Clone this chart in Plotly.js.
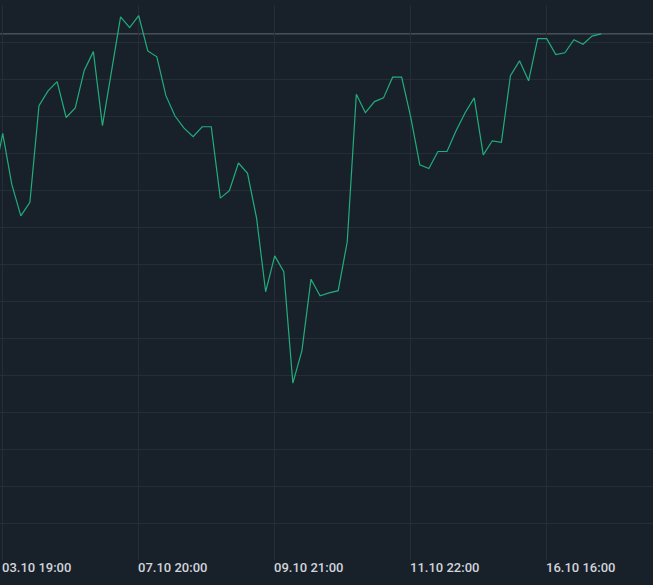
<!DOCTYPE html>
<html>
<head>
<meta charset="utf-8">
<script src="https://cdn.plot.ly/plotly-3.0.1.min.js"></script>
<style>
html,body{margin:0;padding:0;background:#18212a;}
#chart{width:653px;height:585px;}
</style>
</head>
<body>
<div id="chart"></div>
<script>
// Sequential bar index (trading-time axis)
const barIndex = [];
for (let i = 0; i <= 67; i++) barIndex.push(i);

const prices = [
  102.7, 115.3, 101.5, 93.0, 96.7, 122.8, 126.8, 129.3, 119.6, 122.2,
  132.4, 137.4, 117.4, 131.9, 146.8, 143.9, 147.1, 137.6, 136.0, 125.5,
  120.0, 116.7, 114.4, 117.1, 117.1, 97.8, 99.8, 107.3, 104.5, 92.4,
  72.5, 82.2, 77.9, 47.8, 56.6, 75.9, 71.4, 72.2, 72.8, 86.0,
  125.9, 120.9, 123.9, 124.9, 130.5, 130.5, 119.7, 106.8, 105.8, 110.4,
  110.4, 116.0, 120.9, 124.9, 109.5, 113.3, 112.9, 130.9, 134.9, 129.5,
  140.9, 140.9, 136.6, 137.1, 140.6, 139.4, 141.6, 142.2
];

const tickIndex = [1, 16, 31, 46, 61];
const tickLabels = ["03.10 19:00", "07.10 20:00", "09.10 21:00", "11.10 22:00", "16.10 16:00"];

const lastPrice = prices[prices.length - 1];

const trace = {
  x: barIndex,
  y: prices,
  type: 'scatter',
  mode: 'lines',
  line: {color: '#22ad7b', width: 1.2},
  hoverinfo: 'skip'
};

const layout = {
  width: 653,
  height: 585,
  margin: {l: 0, r: 0, t: 5, b: 25},
  paper_bgcolor: '#18212a',
  plot_bgcolor: '#18212a',
  showlegend: false,
  font: {family: 'Roboto, sans-serif', color: '#d1d4da'},
  xaxis: {
    range: [0.702, 72.72],
    tickmode: 'array',
    tickvals: tickIndex,
    ticktext: tickLabels,
    showgrid: true,
    gridcolor: '#232e37',
    gridwidth: 1,
    zeroline: false,
    showline: false,
    ticks: '',
    ticklabelshift: 34,
    ticklabelstandoff: -2,
    tickfont: {family: 'Roboto, sans-serif', size: 13, color: '#d1d4da', weight: 500},
    fixedrange: true
  },
  yaxis: {
    range: [0, 150],
    dtick: 10,
    tick0: 0,
    showgrid: true,
    gridcolor: '#232e37',
    gridwidth: 1,
    zeroline: false,
    showline: false,
    showticklabels: false,
    ticks: '',
    fixedrange: true
  },
  shapes: [{
    type: 'line',
    xref: 'paper', x0: 0, x1: 1,
    yref: 'y', y0: lastPrice, y1: lastPrice,
    line: {color: '#5e6974', width: 1},
    layer: 'below'
  }]
};

Plotly.newPlot('chart', [trace], layout, {displayModeBar: false, staticPlot: true});
</script>
</body>
</html>
